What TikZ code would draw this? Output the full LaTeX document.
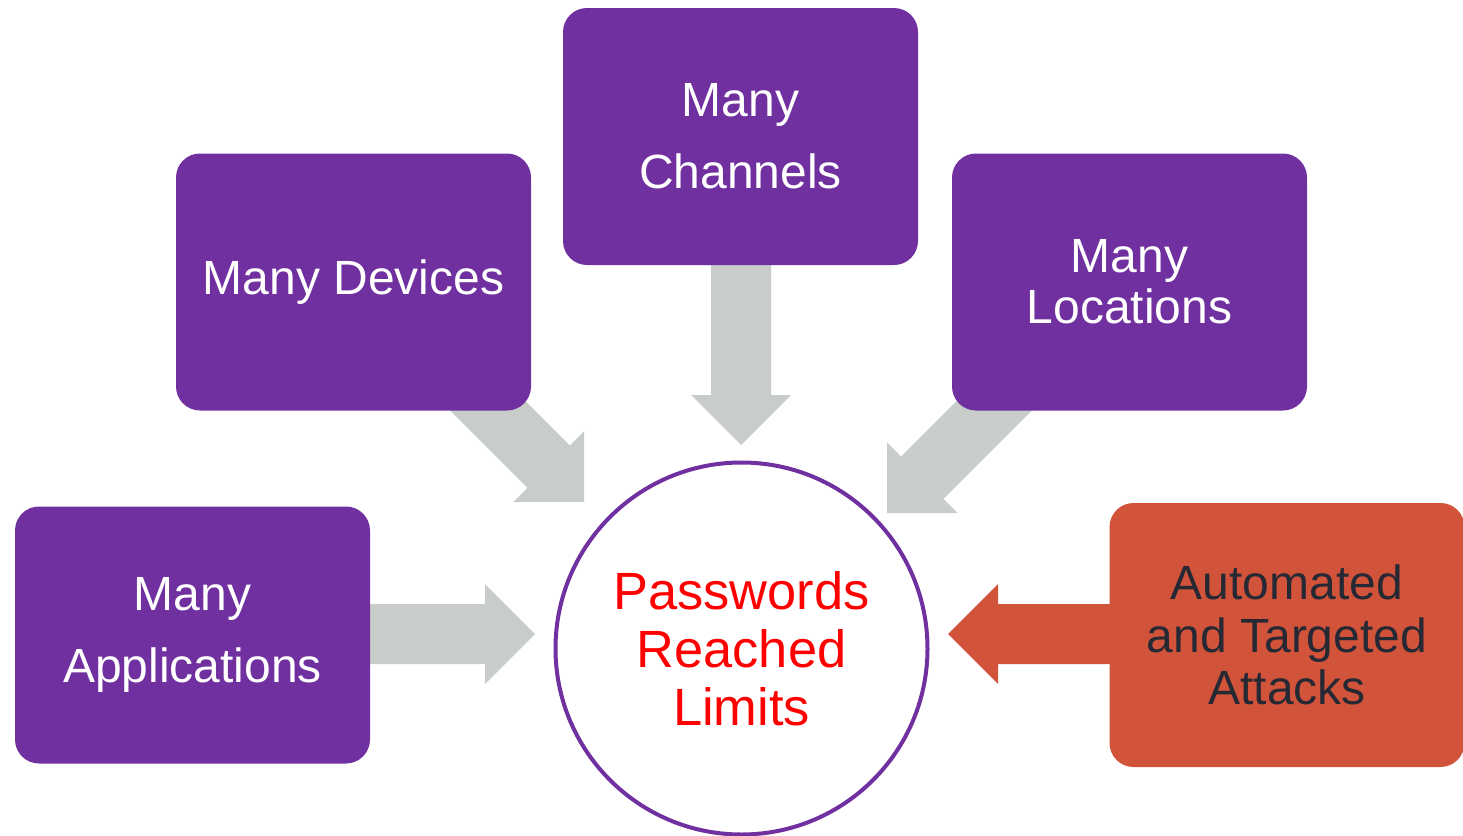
\documentclass[tikz,border=0pt]{standalone}
\usepackage{fontspec}
\setmainfont{Liberation Sans}
\usepackage{xcolor}
\usepackage{tikz}
\usetikzlibrary{calc,shapes}
\usetikzlibrary{positioning}

\definecolor{boxpurple}{RGB}{112,48,160}
\definecolor{arrowgrey}{RGB}{200,205,201}
\definecolor{attackred}{RGB}{209,83,58}
\definecolor{attacktext}{RGB}{38,40,52}

% block arrow: tip coordinate, direction, colour
\newcommand{\blockarrow}[3]{%
  \fill [#3, shift={(#1)}, rotate=#2] (0,0) -- (-50,-50) -- (-50,-30) -- (-200,-30) -- (-200,30) -- (-50,30) -- (-50,50) -- cycle ;}

\begin{document}
\begin{tikzpicture}[x=0.75pt,y=0.75pt,yscale=-1,xscale=1,
  purplebox/.style={rectangle, rounded corners=18pt, fill=boxpurple, text=white, inner sep=0pt,
    minimum width=266.25pt, minimum height=192.75pt, align=center},
  attackbox/.style={purplebox, fill=attackred, text=attacktext, minimum height=198pt},
  limitcircle/.style={circle, draw=boxpurple, line width=3pt, fill=white, text=red, inner sep=0pt,
    minimum size=279pt, align=center}]
  \useasboundingbox (0,0) rectangle (1463,835);

  % tips of the block arrows
  \coordinate (chantip) at (741,445);
  \coordinate (devtip) at (584,502);
  \coordinate (loctip) at (887,513);
  \coordinate (apptip) at (535,634);
  \coordinate (atttip) at (948,634);

  %Shape: Block Arrows
  \blockarrow{chantip}{90}{arrowgrey}
  \blockarrow{devtip}{45}{arrowgrey}
  \blockarrow{loctip}{135}{arrowgrey}
  \blockarrow{apptip}{0}{arrowgrey}
  \blockarrow{atttip}{180}{attackred}

  % Boxes
  \node [purplebox, font={\fontsize{36}{54}\selectfont}] (chan) at (740.5,136.5) {Many\\Channels};
  \node [purplebox, font={\fontsize{36}{42}\selectfont}] (dev) at (353.5,282) {Many Devices};
  \node [purplebox, font={\fontsize{36}{38.5}\selectfont}] (loc) at (1129.5,282) {Many\\Locations};
  \node [purplebox, font={\fontsize{36}{54}\selectfont}] (app) at (192.5,635) {Many\\Applications};
  \node [attackbox, font={\fontsize{36}{39.5}\selectfont}] (att) at (1287,635) {Automated\\and Targeted\\Attacks};

  % Circle
  \node [limitcircle, font={\fontsize{39.3}{43.5}\selectfont}] (pwd) at (741.5,648.5) {Passwords\\Reached\\Limits};

\end{tikzpicture}
\end{document}
